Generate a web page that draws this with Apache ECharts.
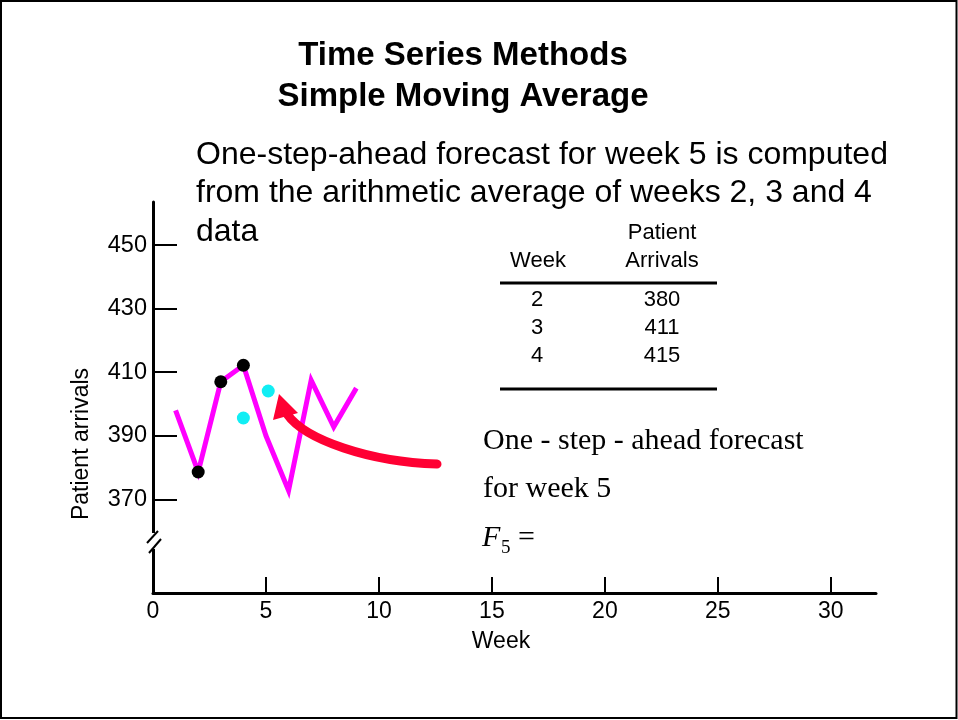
<!DOCTYPE html>
<html>
<head>
<meta charset="utf-8">
<script src="https://cdn.jsdelivr.net/npm/echarts@6/dist/echarts.min.js"></script>
<style>
html,body{margin:0;padding:0;background:#fff;}
#chart{width:958px;height:720px;}
</style>
</head>
<body>
<div id="chart"></div>
<script>
// ---- data ----
var weeks = [1, 2, 3, 4, 5, 6, 7, 8, 9];
var arrivals = [398, 378.6, 407, 412.2, 390, 372.8, 407.5, 392.8, 405];
var highlightWeeks = [2, 3, 4];
var forecastPoints = [[4, 395.6], [5.1, 404.1]];
var xTickLabels = [0, 5, 10, 15, 20, 25, 30];
var yTickLabels = [370, 390, 410, 430, 450];
var tableWeeks = ['2', '3', '4'];
var tableArrivals = ['380', '411', '415'];
var titleLines = ['Time Series Methods', 'Simple Moving Average'];
var descLines = ['One-step-ahead forecast for week 5 is computed',
                 'from the arithmetic average of weeks 2, 3 and 4',
                 'data'];

var SANS = "'Liberation Sans', Arial, Helvetica, sans-serif";
var SERIF = "'Liberation Serif', 'Times New Roman', serif";

var lineData = weeks.map(function (w, i) { return [w, arrivals[i]]; });
var blackData = highlightWeeks.map(function (w) { return [w, arrivals[weeks.indexOf(w)]]; });

var chart = echarts.init(document.getElementById('chart'), null, {renderer: 'canvas'});

function txt(x, y, t, font, align, extra) {
  var g = {type: 'text', x: x, y: y,
    style: {text: t, font: font, fill: '#000', textAlign: align || 'left', textVerticalAlign: 'middle'}};
  if (extra) { for (var k in extra) { g[k] = extra[k]; } }
  return g;
}

var graphics = [];
// frame
graphics.push({type: 'rect', shape: {x: 1, y: 1, width: 955.5, height: 717},
  style: {fill: 'none', stroke: '#000', lineWidth: 2}, z: 100});
// titles
titleLines.forEach(function (t, i) {
  graphics.push(txt(463, 56 + i * 41, t, 'bold 33px ' + SANS, 'center'));
});
// description
descLines.forEach(function (t, i) {
  graphics.push(txt(196, 155 + i * 38.5, t, '32px ' + SANS, 'left'));
});
// table
graphics.push(txt(662, 233, 'Patient', '22px ' + SANS, 'center'));
graphics.push(txt(662, 261, 'Arrivals', '22px ' + SANS, 'center'));
graphics.push(txt(538, 261, 'Week', '22px ' + SANS, 'center'));
graphics.push({type: 'line', shape: {x1: 500, y1: 283, x2: 717, y2: 283}, style: {stroke: '#000', lineWidth: 3}});
graphics.push({type: 'line', shape: {x1: 500, y1: 389, x2: 717, y2: 389}, style: {stroke: '#000', lineWidth: 3}});
tableWeeks.forEach(function (w, i) {
  graphics.push(txt(537, 300 + i * 28, w, '22px ' + SANS, 'center'));
  graphics.push(txt(662, 300 + i * 28, tableArrivals[i], '22px ' + SANS, 'center'));
});
// serif annotation
graphics.push(txt(483, 441, 'One - step - ahead forecast', '30px ' + SERIF, 'left'));
graphics.push(txt(483, 489, 'for week 5', '30px ' + SERIF, 'left'));
graphics.push(txt(482, 538, 'F', 'italic 30px ' + SERIF, 'left'));
graphics.push(txt(501, 548, '5', '19px ' + SERIF, 'left'));
graphics.push(txt(518, 538, '=', '30px ' + SERIF, 'left'));
// arrow
graphics.push({type: 'bezierCurve', shape: {x1: 437, y1: 464, cpx1: 370, cpy1: 462, cpx2: 305, cpy2: 440, x2: 287, y2: 414},
  style: {stroke: '#FF0033', lineWidth: 9, fill: 'none', lineCap: 'round'}, z: 50});
graphics.push({type: 'polygon', shape: {points: [[279, 394], [273, 420], [298, 413]]},
  style: {fill: '#FF0033'}, z: 50});
// y axis break
graphics.push({type: 'rect', shape: {x: 149, y: 533, width: 9, height: 16}, style: {fill: '#fff'}, z: 60});
graphics.push({type: 'line', shape: {x1: 147, y1: 543, x2: 158, y2: 531}, style: {stroke: '#000', lineWidth: 2}, z: 61});
graphics.push({type: 'line', shape: {x1: 149, y1: 553, x2: 161, y2: 539}, style: {stroke: '#000', lineWidth: 2}, z: 61});
// y axis name
graphics.push(txt(82, 444, 'Patient arrivals', '23px ' + SANS, 'center', {rotation: Math.PI / 2}));

var option = {
  backgroundColor: '#ffffff',
  animation: false,
  grid: {left: 153, right: 82, top: 202, bottom: 127, containLabel: false},
  xAxis: {
    type: 'value', min: 0, max: 32,
    name: 'Week', nameLocation: 'middle', nameGap: 37,
    nameTextStyle: {fontFamily: SANS, fontSize: 23, color: '#000', padding: [0, 27, 0, 0]},
    axisLine: {show: true, onZero: false, lineStyle: {color: '#000', width: 3}},
    axisTick: {show: true, inside: true, length: 16, lineStyle: {color: '#000', width: 2},
      customValues: xTickLabels.filter(function (v) { return v > 0; })},
    axisLabel: {show: true, customValues: xTickLabels, margin: 7,
      fontFamily: SANS, fontSize: 23, color: '#000'},
    splitLine: {show: false}
  },
  yAxis: {
    type: 'value', min: 340.5, max: 463.6,
    axisLine: {show: true, onZero: false, lineStyle: {color: '#000', width: 3}},
    axisTick: {show: true, inside: true, length: 24, lineStyle: {color: '#000', width: 2},
      customValues: yTickLabels},
    axisLabel: {show: true, customValues: yTickLabels, margin: 6,
      fontFamily: SANS, fontSize: 23.5, color: '#000'},
    splitLine: {show: false}
  },
  series: [
    {type: 'line', data: lineData, symbol: 'none', z: 3,
      lineStyle: {color: '#FF00FF', width: 5, join: 'miter'}},
    {type: 'scatter', data: blackData, symbol: 'circle', symbolSize: 13, z: 4,
      itemStyle: {color: '#000', opacity: 1}},
    {type: 'scatter', data: forecastPoints, symbol: 'circle', symbolSize: 13, z: 4,
      itemStyle: {color: '#11EEF4', opacity: 1}}
  ],
  graphic: graphics
};
chart.setOption(option);
</script>
</body>
</html>
